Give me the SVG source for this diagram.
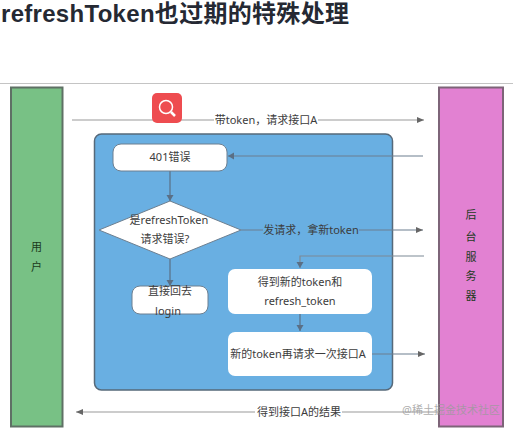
<svg xmlns="http://www.w3.org/2000/svg" width="513" height="429" viewBox="0 0 513 429">
<defs>
<marker id="a" markerWidth="8" markerHeight="6" refX="7" refY="3" orient="auto" markerUnits="userSpaceOnUse"><path d="M0 0L7 3L0 6z" fill="#666"/></marker>
<marker id="b" markerWidth="7" markerHeight="8" refX="6" refY="4" orient="auto" markerUnits="userSpaceOnUse"><path d="M0 0.5L6 4L0 7.5z" fill="#5a6f85"/></marker>
</defs>
<style>
text{font-family:"Noto Sans","Noto Sans CJK SC",sans-serif;font-size:11px;fill:#3c3c3c;text-anchor:middle}
.l{stroke:#999;stroke-width:1.2;fill:none}
.i{stroke:#5a6f85;stroke-width:1.2;fill:none}
.n{fill:#fff;stroke:#6d7f90;stroke-width:1}
.v{fill:#1c3a1c}
</style>
<rect width="513" height="429" fill="#fff"/>
<text x="1" y="22" style="font-family:'Liberation Sans','Noto Sans CJK SC',sans-serif;font-size:24px;letter-spacing:.3px;font-weight:700;text-anchor:start;fill:#252933">refreshToken也过期的特殊处理</text>
<rect x="0" y="83" width="513" height="1" fill="#c4c4c4"/>
<g id="user"><rect x="11" y="87.500" width="51.500" height="339" fill="#78c185" stroke="#5f7065" stroke-width="2"/><text class="v" x="36.500" y="251">用</text><text class="v" x="36.500" y="271">户</text></g>
<g id="server"><rect x="439" y="87.500" width="64" height="339" fill="#e281d2" stroke="#7d6478" stroke-width="2"/><text class="v" x="471" y="219">后</text><text class="v" x="471" y="241">台</text><text class="v" x="471" y="261">服</text><text class="v" x="471" y="280">务</text><text class="v" x="471" y="300">器</text></g>
<g id="panel"><rect x="94.500" y="134" width="298" height="256" rx="7" fill="#69afe2" stroke="#56697a" stroke-width="1.500"/></g>
<g id="connectors">
<path class="l" d="M72 120H424" marker-end="url(#a)"/>
<path class="l" d="M423 156H228" marker-end="url(#b)" style="stroke:#6d7f90"/>
<path class="i" d="M170 171V201" marker-end="url(#b)"/>
<path class="i" d="M170 259V286" marker-end="url(#b)"/>
<path class="l" d="M241 230H423" marker-end="url(#a)" style="stroke:#6d7f90"/>
<path class="l" d="M424 256H300V268" marker-end="url(#b)" style="stroke:#7d8a96"/>
<path class="i" d="M300 314V331" marker-end="url(#b)"/>
<path class="l" d="M372 354H425" marker-end="url(#a)" style="stroke:#6d7f90"/>
<path class="l" d="M439 412H76" marker-end="url(#a)"/>
</g>
<g id="search-icon"><rect x="152" y="93" width="30" height="30" rx="5" fill="#ee4c50"/><circle cx="166" cy="107" r="6.500" fill="none" stroke="#fff" stroke-width="1.500"/><path d="M171 112L175 116" stroke="#fff" stroke-width="2.500"/></g>
<g id="n401"><rect class="n" x="113" y="144" width="114" height="27" rx="8"/><text x="170" y="161">401错误</text></g>
<g id="decision"><path class="n" d="M170 201L241 230L170 259L99 230z"/><text x="169" y="224">是refreshToken</text><text x="165" y="243">请求错误?</text></g>
<g id="login"><rect class="n" x="132" y="286" width="76" height="28" rx="8"/><text x="170" y="295">直接回去</text><text x="168" y="315">login</text></g>
<g id="newtoken"><rect class="n" x="228" y="269" width="144" height="45" rx="7" style="stroke:none"/><text x="300" y="286">得到新的token和</text><text x="300" y="305">refresh_token</text></g>
<g id="retry"><rect class="n" x="228" y="332" width="144" height="44" rx="7" style="stroke:none"/><text x="298" y="358">新的token再请求一次接口A</text></g>
<g id="labels">
<rect x="214" y="113" width="104" height="14" fill="#fff"/><text x="266" y="124">带token，请求接口A</text>
<rect x="263" y="223" width="96" height="14" fill="#69afe2"/><text x="311" y="234">发请求，拿新token</text>
<rect x="255" y="405" width="87" height="14" fill="#fff"/><text x="299" y="416">得到接口A的结果</text>
</g>
<text x="451" y="414" style="font-size:11px;fill:#9a9a9a;fill-opacity:.8">@稀土掘金技术社区</text>
</svg>
